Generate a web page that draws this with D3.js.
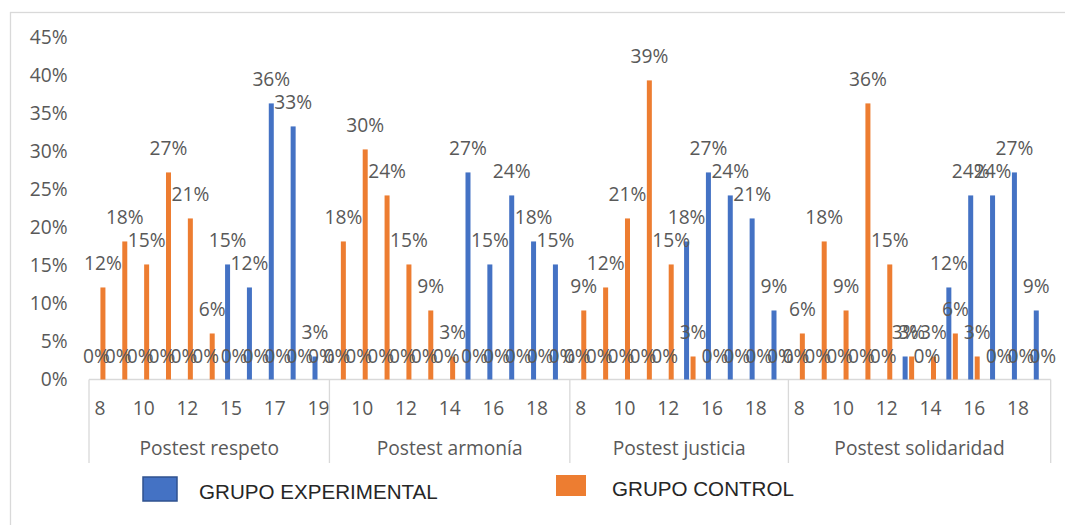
<!DOCTYPE html>
<html>
<head>
<meta charset="utf-8">
<script src="https://cdn.jsdelivr.net/npm/d3@7/dist/d3.min.js"></script>
<style>
  html, body { margin: 0; padding: 0; background: #fff; }
  svg { display: block; }
</style>
</head>
<body>
<svg id="chart" width="1065" height="525"></svg>
<script>
// ---- data (values are shares of 33 students) ----
const groupNames = ["Postest respeto", "Postest armonía", "Postest justicia", "Postest solidaridad"];

const respetoScores = [8, 9, 10, 11, 12, 14, 15, 16, 17, 18, 19];
const respetoExp    = [0, 0, 0, 0, 0, 0, 0.1515, 0.1212, 0.3636, 0.3333, 0.0303];
const respetoCtrl   = [0.1212, 0.1818, 0.1515, 0.2727, 0.2121, 0.0606, 0, 0, 0, 0, 0];

const armoniaScores = [9, 10, 11, 12, 13, 14, 15, 16, 17, 18, 19];
const armoniaExp    = [0, 0, 0, 0, 0, 0, 0.2727, 0.1515, 0.2424, 0.1818, 0.1515];
const armoniaCtrl   = [0.1818, 0.3030, 0.2424, 0.1515, 0.0909, 0.0303, 0, 0, 0, 0, 0];

const justiciaScores = [8, 9, 10, 11, 12, 14, 16, 17, 18, 19];
const justiciaExp    = [0, 0, 0, 0, 0, 0.1818, 0.2727, 0.2424, 0.2121, 0.0909];
const justiciaCtrl   = [0.0909, 0.1212, 0.2121, 0.3939, 0.1515, 0.0303, 0, 0, 0, 0];

const solidaridadScores = [8, 9, 10, 11, 12, 13, 14, 15, 16, 17, 18, 19];
const solidaridadExp    = [0, 0, 0, 0, 0, 0.0303, 0, 0.1212, 0.2424, 0.2424, 0.2727, 0.0909];
const solidaridadCtrl   = [0.0606, 0.1818, 0.0909, 0.3636, 0.1515, 0.0303, 0.0303, 0.0606, 0.0303, 0, 0, 0];

const seriesNames = ["GRUPO EXPERIMENTAL", "GRUPO CONTROL"];
const seriesColors = ["#4472C4", "#ED7D31"];
const yTickValues = [0, 0.05, 0.10, 0.15, 0.20, 0.25, 0.30, 0.35, 0.40, 0.45];

// ---- build table ----
const groupData = [
  [respetoScores, respetoExp, respetoCtrl],
  [armoniaScores, armoniaExp, armoniaCtrl],
  [justiciaScores, justiciaExp, justiciaCtrl],
  [solidaridadScores, solidaridadExp, solidaridadCtrl]
];
const rows = [];
groupData.forEach((g, gi) => {
  g[0].forEach((s, i) => {
    rows.push({ key: gi + "-" + s, group: gi, score: s, values: [g[1][i], g[2][i]] });
  });
});

// ---- layout ----
const svg = d3.select("#chart");
const plotLeft = 89, plotRight = 1050.7, plotBottom = 379.5, plotTop = 37.8;
const labelFont = "'Open Sans', 'Noto Sans', sans-serif";
const labelSize = 19.2;
const textColor = "#595959";

// chart border
svg.append("rect")
  .attr("x", 10.5).attr("y", 12.5).attr("width", 1080).attr("height", 540)
  .attr("fill", "none").attr("stroke", "#d9d9d9").attr("stroke-width", 1.3);

const x0 = d3.scaleBand().domain(rows.map(r => r.key)).range([plotLeft, plotRight]).paddingInner(0).paddingOuter(0);
const bw = x0.bandwidth();
const x1 = d3.scaleBand().domain([0, 1]).range([bw / 2 - 6, bw / 2 + 5.5]).paddingInner(0.23);
const y = d3.scaleLinear().domain([0, 0.45]).range([plotBottom, plotTop]);
const fmt = d3.format(".0%");

// y axis
const yAxis = svg.append("g")
  .attr("transform", `translate(${plotLeft - 21.5},0)`)
  .call(d3.axisLeft(y).tickValues(yTickValues).tickFormat(fmt).tickSize(0).tickPadding(0));
yAxis.select(".domain").remove();
yAxis.selectAll("text")
  .attr("font-family", labelFont).attr("font-size", labelSize).attr("fill", textColor);

// x axis (category ticks, every other label)
const tickKeys = rows.filter((r, i) => i % 2 === 0).map(r => r.key);
const keyToScore = new Map(rows.map(r => [r.key, r.score]));
const xAxis = svg.append("g")
  .attr("transform", `translate(0,${plotBottom})`)
  .call(d3.axisBottom(x0).tickValues(tickKeys).tickFormat(k => keyToScore.get(k)).tickSize(0).tickPadding(22));
xAxis.select(".domain").remove();
xAxis.selectAll("text")
  .attr("font-family", labelFont).attr("font-size", labelSize).attr("fill", textColor);

// axis lines & group separators
svg.append("line")
  .attr("x1", plotLeft).attr("x2", plotRight).attr("y1", plotBottom).attr("y2", plotBottom)
  .attr("stroke", "#d9d9d9").attr("stroke-width", 1.3);

const groupStarts = groupNames.map((g, gi) => rows.find(r => r.group === gi).key);
const sepX = groupStarts.map(k => x0(k)).concat([plotRight]);
svg.selectAll("line.sep").data(sepX).enter().append("line")
  .attr("class", "sep")
  .attr("x1", d => d).attr("x2", d => d)
  .attr("y1", plotBottom).attr("y2", 463)
  .attr("stroke", "#d9d9d9").attr("stroke-width", 1.3);

// group labels
svg.selectAll("text.grp").data(groupNames).enter().append("text")
  .attr("class", "grp")
  .attr("x", (d, i) => (sepX[i] + sepX[i + 1]) / 2)
  .attr("y", 455)
  .attr("text-anchor", "middle")
  .attr("font-family", labelFont).attr("font-size", labelSize).attr("fill", textColor)
  .text(d => d);

// bars
const catG = svg.selectAll("g.cat").data(rows).enter().append("g")
  .attr("class", "cat")
  .attr("transform", d => `translate(${x0(d.key)},0)`);

catG.selectAll("rect").data(d => d.values.map((v, s) => ({ v, s }))).enter().append("rect")
  .attr("x", d => x1(d.s))
  .attr("width", x1.bandwidth())
  .attr("y", d => y(d.v))
  .attr("height", d => plotBottom - y(d.v))
  .attr("fill", d => seriesColors[d.s]);

// data labels (drawn after all bars)
const lblG = svg.selectAll("g.lbl").data(rows).enter().append("g")
  .attr("class", "lbl")
  .attr("transform", d => `translate(${x0(d.key)},0)`);
lblG.selectAll("text").data(d => d.values.map((v, s) => ({ v, s }))).enter().append("text")
  .attr("x", d => x1(d.s) + x1.bandwidth() / 2)
  .attr("y", d => y(d.v) - 17)
  .attr("text-anchor", "middle")
  .attr("font-family", labelFont).attr("font-size", labelSize).attr("fill", textColor)
  .text(d => fmt(d.v));

// legend
const legend = [
  { name: seriesNames[0], color: seriesColors[0], rx: 143, ry: 477, rw: 34, rh: 24, stroke: "#2F528F", tx: 199, ty: 498.5 },
  { name: seriesNames[1], color: seriesColors[1], rx: 556, ry: 475, rw: 30, rh: 21, stroke: "none", tx: 612, ty: 495.5 }
];
const lg = svg.selectAll("g.leg").data(legend).enter().append("g").attr("class", "leg");
lg.append("rect")
  .attr("x", d => d.rx).attr("y", d => d.ry).attr("width", d => d.rw).attr("height", d => d.rh)
  .attr("fill", d => d.color).attr("stroke", d => d.stroke).attr("stroke-width", 1.5);
lg.append("text")
  .attr("x", d => d.tx).attr("y", d => d.ty)
  .attr("font-family", "'Liberation Sans', Arial, sans-serif").attr("font-size", 20.6)
  .attr("fill", "#262626")
  .text(d => d.name);
</script>
</body>
</html>
